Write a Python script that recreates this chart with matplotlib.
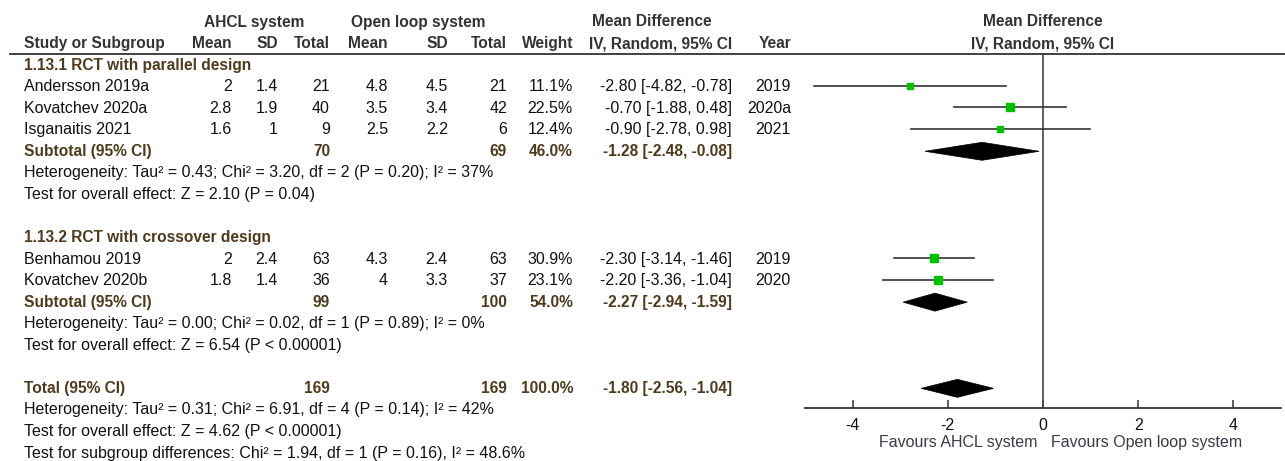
import matplotlib.pyplot as plt
from matplotlib.patches import Polygon
import numpy as np

plt.rcParams['font.family'] = ['Liberation Sans', 'DejaVu Sans']

# study level data
studies = ["Andersson 2019a", "Kovatchev 2020a", "Isganaitis 2021", "Benhamou 2019", "Kovatchev 2020b"]
group = [0, 0, 0, 1, 1]
ahcl_mean = [2, 2.8, 1.6, 2, 1.8]
ahcl_sd = [1.4, 1.9, 1, 2.4, 1.4]
ahcl_n = [21, 40, 9, 63, 36]
ol_mean = [4.8, 3.5, 2.5, 4.3, 4]
ol_sd = [4.5, 3.4, 2.2, 2.4, 3.3]
ol_n = [21, 42, 6, 63, 37]
weight = [11.1, 22.5, 12.4, 30.9, 23.1]
md = [-2.80, -0.70, -0.90, -2.30, -2.20]
ci_lo = [-4.82, -1.88, -2.78, -3.14, -3.36]
ci_hi = [-0.78, 0.48, 0.98, -1.46, -1.04]
years = ["2019", "2020a", "2021", "2019", "2020"]

# subgroups
groups = ["1.13.1 RCT with parallel design", "1.13.2 RCT with crossover design"]
sub_n1 = [70, 99]
sub_n2 = [69, 100]
sub_w = [46.0, 54.0]
sub_md = [-1.28, -2.27]
sub_lo = [-2.48, -2.94]
sub_hi = [-0.08, -1.59]
sub_het = ["Heterogeneity: Tau² = 0.43; Chi² = 3.20, df = 2 (P = 0.20); I² = 37%",
           "Heterogeneity: Tau² = 0.00; Chi² = 0.02, df = 1 (P = 0.89); I² = 0%"]
sub_test = ["Test for overall effect: Z = 2.10 (P = 0.04)",
            "Test for overall effect: Z = 6.54 (P < 0.00001)"]

# overall
tot_n1, tot_n2, tot_w = 169, 169, 100.0
tot_md, tot_lo, tot_hi = -1.80, -2.56, -1.04
tot_het = "Heterogeneity: Tau² = 0.31; Chi² = 6.91, df = 4 (P = 0.14); I² = 42%"
tot_test = "Test for overall effect: Z = 4.62 (P < 0.00001)"
sub_diff = "Test for subgroup differences: Chi² = 1.94, df = 1 (P = 0.16), I² = 48.6%"

xticks = [-4, -2, 0, 2, 4]

W, H = 1285, 461
fig = plt.figure(figsize=(W / 100, H / 100), dpi=100)
tab = fig.add_axes([0, 0, 1, 1])
tab.set_xlim(0, W)
tab.set_ylim(H, 0)
tab.axis('off')

HEAD = '#333333'
BOLD = '#4f3a1c'
TXT = '#111111'
FS = 11.5
FSB = 11.2


def row(i):
    return 22 + 21.55 * i


def fmt(v):
    return f"{v:g}"


def ci(m, lo, hi):
    return f"{m:.2f} [{lo:.2f}, {hi:.2f}]"


# column right edges
c_m1, c_sd1, c_n1 = 232, 278, 330
c_m2, c_sd2, c_n2 = 388, 448, 507
c_w, c_ci, c_yr = 573, 732, 791
x0 = 24


def cell(x, i, s, ha='right', bold=False, color=TXT):
    tab.text(x, row(i), s, ha=ha, va='center', fontsize=FSB if bold else FS,
             fontweight='bold' if bold else 'normal', color=color)


# header
cell(254, 0, "AHCL system", 'center', True, HEAD)
cell(418, 0, "Open loop system", 'center', True, HEAD)
cell(652, 0, "Mean Difference", 'center', True, HEAD)
cell(1043, 0, "Mean Difference", 'center', True, HEAD)
cell(x0, 1, "Study or Subgroup", 'left', True, HEAD)
for x, s in [(c_m1, "Mean"), (c_sd1, "SD"), (c_n1, "Total"), (c_m2, "Mean"), (c_sd2, "SD"),
             (c_n2, "Total"), (c_w, "Weight"), (c_ci, "IV, Random, 95% CI"), (c_yr, "Year")]:
    cell(x, 1, s, 'right', True, HEAD)
cell(1043, 1, "IV, Random, 95% CI", 'center', True, HEAD)
tab.plot([10, W], [54, 54], color='#333333', lw=1.3)

# forest panel: spans from header rule down to the axis
ax = fig.add_axes([805 / W, (H - 408) / H, (1281 - 805) / W, (408 - 54) / H])
ax.set_xlim(-5, 5)
ax.set_ylim(408, 54)
for s in ['left', 'right', 'top']:
    ax.spines[s].set_visible(False)
ax.spines['bottom'].set_color('#333333')
ax.spines['bottom'].set_linewidth(1.3)
ax.set_yticks([])
ax.set_xticks(xticks)
ax.set_xticklabels([f"{t:d}" for t in xticks])
ax.tick_params(axis='x', direction='in', length=6, width=1.1, colors='#333333',
               labelsize=FS, labelcolor=TXT, pad=7)
ax.axvline(0, color='#444444', lw=1.2)
ax.patch.set_visible(False)


def diamond(i, m, lo, hi):
    y = row(i)
    h = 9
    ax.add_patch(Polygon([(lo, y), (m, y - h), (hi, y), (m, y + h)], closed=True,
                         facecolor='black', edgecolor='black', lw=0.5))


line = 2
for g in range(len(groups)):
    cell(x0, line, groups[g], 'left', True, BOLD)
    line += 1
    for k in range(len(studies)):
        if group[k] != g:
            continue
        cell(x0, line, studies[k], 'left')
        cell(c_m1, line, fmt(ahcl_mean[k]))
        cell(c_sd1, line, fmt(ahcl_sd[k]))
        cell(c_n1, line, fmt(ahcl_n[k]))
        cell(c_m2, line, fmt(ol_mean[k]))
        cell(c_sd2, line, fmt(ol_sd[k]))
        cell(c_n2, line, fmt(ol_n[k]))
        cell(c_w, line, f"{weight[k]:.1f}%")
        cell(c_ci, line, ci(md[k], ci_lo[k], ci_hi[k]))
        cell(c_yr, line, years[k])
        y = row(line) - 1
        ax.plot([ci_lo[k], ci_hi[k]], [y, y], color='#333333', lw=1.2)
        side = 1.6 * np.sqrt(weight[k]) * 0.72
        ax.plot(md[k], y, 's', ms=side, color='#00c000', mec='#00c000')
        line += 1
    cell(x0, line, "Subtotal (95% CI)", 'left', True, BOLD)
    cell(c_n1, line, fmt(sub_n1[g]), bold=True, color=BOLD)
    cell(c_n2, line, fmt(sub_n2[g]), bold=True, color=BOLD)
    cell(c_w, line, f"{sub_w[g]:.1f}%", bold=True, color=BOLD)
    cell(c_ci, line, ci(sub_md[g], sub_lo[g], sub_hi[g]), bold=True, color=BOLD)
    diamond(line, sub_md[g], sub_lo[g], sub_hi[g])
    line += 1
    cell(x0, line, sub_het[g], 'left')
    cell(x0, line + 1, sub_test[g], 'left')
    line += 3

cell(x0, line, "Total (95% CI)", 'left', True, BOLD)
cell(c_n1, line, fmt(tot_n1), bold=True, color=BOLD)
cell(c_n2, line, fmt(tot_n2), bold=True, color=BOLD)
cell(c_w, line, f"{tot_w:.1f}%", bold=True, color=BOLD)
cell(c_ci, line, ci(tot_md, tot_lo, tot_hi), bold=True, color=BOLD)
diamond(line, tot_md, tot_lo, tot_hi)
cell(x0, line + 1, tot_het, 'left')
cell(x0, line + 2, tot_test, 'left')
cell(x0, line + 3, sub_diff, 'left')

tab.text(1037, 442, "Favours AHCL system", ha='right', va='center', fontsize=FS, color='#3a3a4a')
tab.text(1051, 442, "Favours Open loop system", ha='left', va='center', fontsize=FS, color='#3a3a4a')

fig.savefig("out.png", dpi=100)
